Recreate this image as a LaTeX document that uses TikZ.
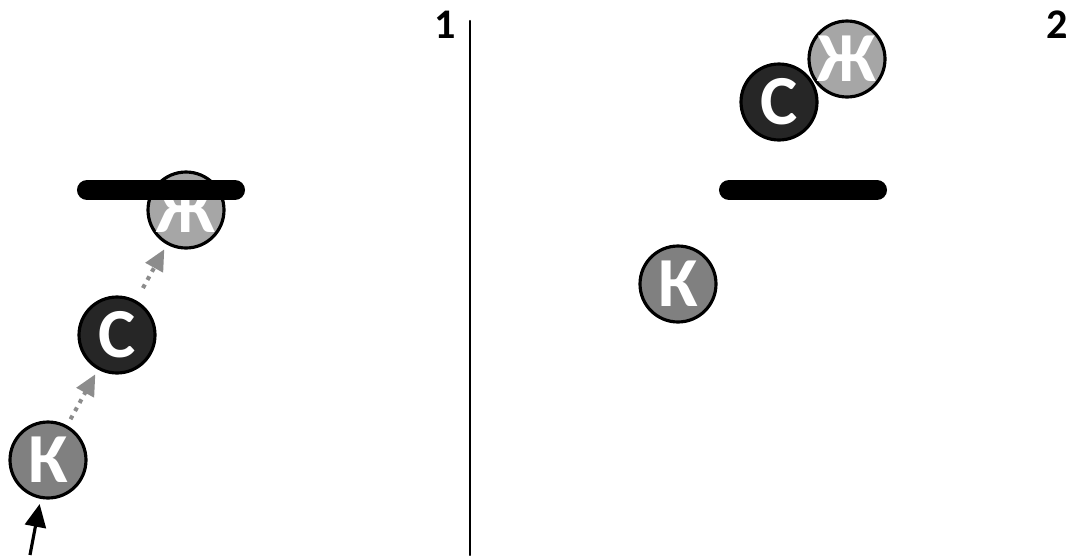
\documentclass[tikz,border=0pt]{standalone}
\usepackage{fontspec}
\setmainfont{Carlito}
\usetikzlibrary{arrows,arrows.meta}

\tikzset{
  ball/.style={circle, draw=black, line width=1.8pt, minimum size=1.52cm, inner sep=0pt,
    text=white, font=\fontsize{40}{40}\selectfont\bfseries},
  ballk/.style={ball, fill=black!50},
  ballc/.style={ball, fill=black!85},
  ballzh/.style={ball, fill=black!35},
  bar/.style={line width=11.4pt, line cap=round},
  hop/.style={-{Triangle[length=12pt,width=11pt]}, black!45, line width=2.3pt,
    dash pattern=on 2.3pt off 3pt, line cap=butt, shorten >=3pt, shorten <=4pt}
}

\begin{document}
\begin{tikzpicture}[line cap=round,line join=round,>=triangle 45,x=0.02cm,y=-0.02cm]
\useasboundingbox (0,0) rectangle (1071,555);
% left panel
\node[ballk] (k1) at (48,460) {К};
\node[ballc] (c1) at (117,335) {С};
\node[ballzh] (zh1) at (186,210) {Ж};
\draw [bar] (87,190)--(235,190);
\draw [hop] (k1) -- (c1);
\draw [hop, shorten <=8pt] (c1) -- (zh1);
\coordinate (in) at (30,555);
\draw [-{Triangle[length=13pt,width=12pt]}, line width=1.8pt, line cap=butt, shorten >=3pt] (in) -- (k1);
% divider
\draw [line width=1.4pt] (470,21)--(470,555);
\node[font=\fontsize{24}{24}\selectfont\bfseries] (n1) at (445,25) {1};
\node[font=\fontsize{24}{24}\selectfont\bfseries] (n2) at (1057,25) {2};
% right panel
\node[ballzh] (zh2) at (847,59) {Ж};
\node[ballc] (c2) at (779,102) {С};
\draw [bar] (729,190)--(877,190);
\node[ballk] (k2) at (678,284) {К};
\end{tikzpicture}
\end{document}
